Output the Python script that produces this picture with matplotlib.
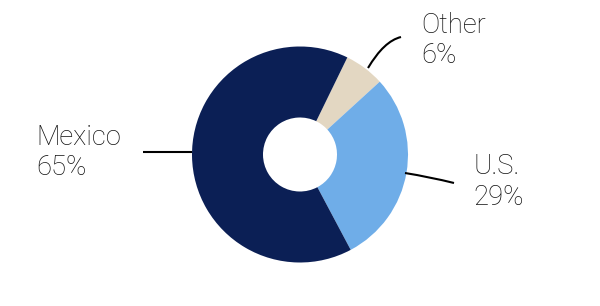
import matplotlib.pyplot as plt
from matplotlib.path import Path
from matplotlib.patches import PathPatch

# shares, clockwise from the top
labels = ['Other', 'U.S.', 'Mexico']
shares = [6, 29, 65]
colors = ['#e3d7c2', '#6fade8', '#0b1f55']

W, H = 600, 306


def px(x, y):
    # image pixel coords -> data coords (y up)
    return x, H - y


fig = plt.figure(figsize=(6, 3.06), dpi=100)
ax = fig.add_axes([0, 0, 1, 1])

cx, cy = px(300, 154.5)
ax.pie(shares, colors=colors, startangle=64, counterclock=False,
       center=(cx, cy), radius=108,
       wedgeprops=dict(width=71, linewidth=0))

ax.set_xlim(0, W)
ax.set_ylim(0, H)
ax.set_aspect('equal')
ax.axis('off')

# leader lines
leaders = {
    'Other': [(368, 68), (384, 41), (401, 37)],
    'U.S.': [(405, 173), (430, 177), (454, 183)],
    'Mexico': [(143, 152), (168, 152), (192, 152)],
}
for name, pts in leaders.items():
    verts = [px(*p) for p in pts]
    path = Path(verts, [Path.MOVETO, Path.CURVE3, Path.CURVE3])
    ax.add_patch(PathPatch(path, fill=False, lw=1.5, color='black',
                           capstyle='butt'))

# label positions: left x, baseline of first line, baseline of second line
text_pos = {
    'Other': (421, 33, 63),
    'U.S.': (473, 174, 205),
    'Mexico': (36, 145, 175),
}
font = dict(family='Roboto', weight='light', size=19.7, color='#111111')
for name, share in zip(labels, shares):
    x, y1, y2 = text_pos[name]
    ax.text(*px(x, y1), name, ha='left', va='baseline', **font)
    ax.text(*px(x, y2), f'{share}%', ha='left', va='baseline', **font)

fig.savefig('out.png', dpi=100)
